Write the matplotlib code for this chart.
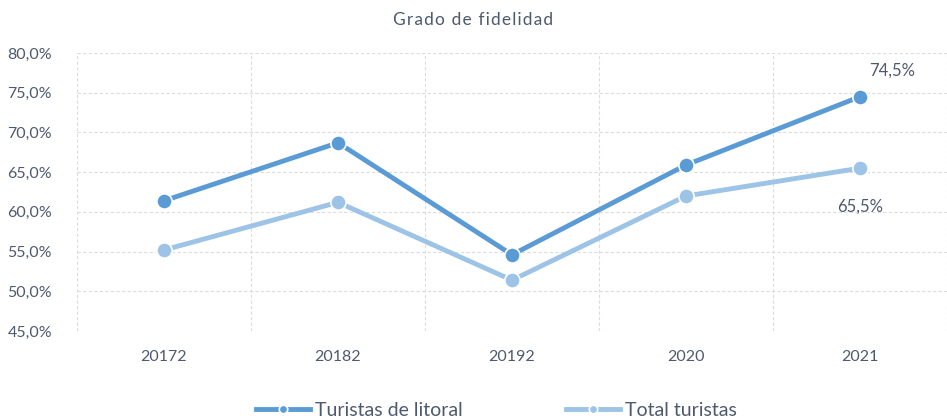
import matplotlib.pyplot as plt
from matplotlib.ticker import FuncFormatter

years = ['20172', '20182', '20192', '2020', '2021']
litoral = [61.4, 68.7, 54.6, 65.9, 74.5]
total = [55.2, 61.2, 51.4, 62.0, 65.5]

dark = '#5b9bd5'
light = '#9dc3e6'
txt = '#4d5a6e'

plt.rcParams['font.family'] = ['Lato', 'DejaVu Sans']

fig = plt.figure(figsize=(9.47, 4.18), dpi=100)
ax = fig.add_axes([77/947, 1-331/418, (947-77)/947, (331-53)/418])

x = range(len(years))
ax.plot(x, litoral, color=dark, lw=3.5, marker='o', ms=11, mec='white', mew=1.2,
        label='Turistas de litoral', zorder=3)
ax.plot(x, total, color=light, lw=3.5, marker='o', ms=11, mec='white', mew=1.2,
        label='Total turistas', zorder=3)

ax.annotate('74,5%', (4, litoral[4]), xytext=(23, 19), textcoords='offset points',
            ha='center', va='center', color=txt, fontsize=12)
ax.annotate('65,5%', (4, total[4]), xytext=(0, -28), textcoords='offset points',
            ha='center', va='center', color=txt, fontsize=12)

ax.set_ylim(45, 80)
ax.set_yticks(range(45, 81, 5))
ax.yaxis.set_major_formatter(FuncFormatter(lambda v, p: f'{v:.1f}%'.replace('.', ',')))
ax.set_xlim(-0.5, 4.455)
ax.set_xticks(list(x))
ax.set_xticklabels(years)
ax.set_xticks([i - 0.5 for i in range(6)], minor=True)
ax.tick_params(axis='both', which='both', length=0, colors=txt, labelsize=11.5)
ax.tick_params(axis='x', pad=14)
ax.tick_params(axis='y', pad=18)
ax.grid(axis='y', which='major', color='#dcdcdc', ls=(0, (3, 2)), lw=0.8)
ax.grid(axis='x', which='minor', color='#dcdcdc', ls=(0, (3, 2)), lw=0.8)
for s in ax.spines.values():
    s.set_visible(False)

title = '\u200a'.join('Grado de fidelidad')
fig.text(0.5, 1-20/418, title, ha='center', va='center', color=txt, fontsize=12.5)

fig.legend(loc='center', bbox_to_anchor=(0.524, 1-410/418), ncol=2, frameon=False,
           fontsize=14, labelcolor=txt, handlelength=2.8, handletextpad=0.25,
           columnspacing=5.3, markerscale=0.55)

fig.savefig('out.png', dpi=100)
